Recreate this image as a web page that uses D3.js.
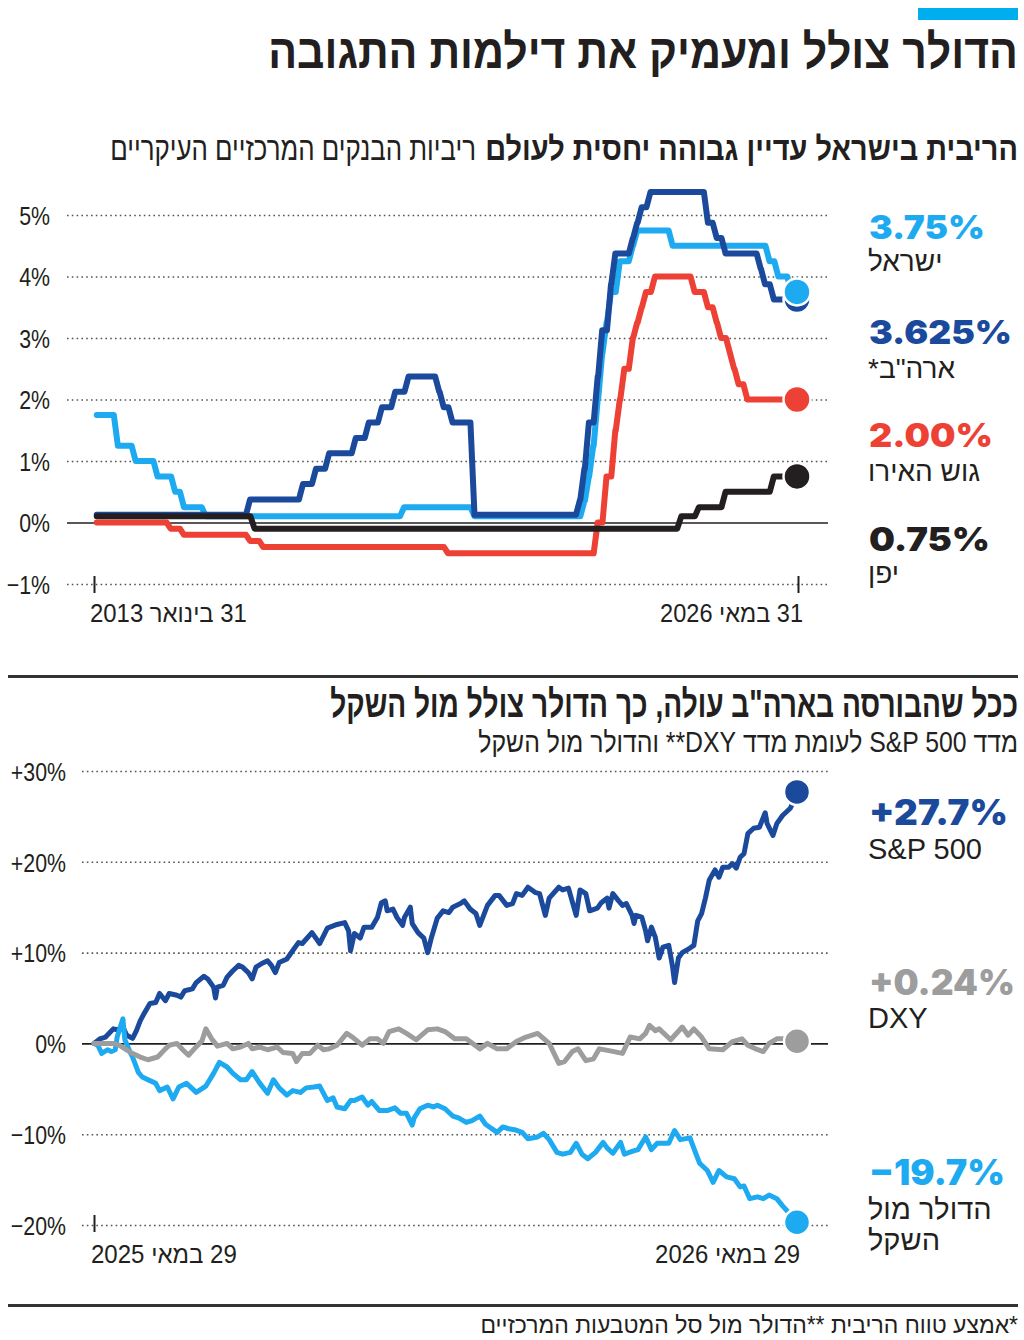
<!DOCTYPE html>
<html>
<head>
<meta charset="utf-8">
<script src="https://cdn.jsdelivr.net/npm/d3@7"></script>
<style>
  body { margin: 0; background: #fff; }
  svg { display: block; }
  text { font-family: "Liberation Sans", "DejaVu Sans", sans-serif; fill: #231f20; }
  .num { font-family: "Inter", "Lato", sans-serif; font-weight: 900; }
  .tick text { font-family: "Liberation Sans", sans-serif; font-size: 26px; fill: #231f20; }
</style>
</head>
<body>
<div id="root"></div>
<script>
// ---- data: central bank rates (change points, month -> rate) ----
const israelRates = [["2013-02",1.75],["2013-07",1.25],["2013-11",1.0],["2014-04",0.75],["2014-08",0.5],["2014-10",0.25],
  ["2015-03",0.1],["2018-12",0.25],["2020-04",0.1],["2022-05",0.35],["2022-06",0.75],["2022-07",1.25],["2022-08",2.0],
  ["2022-09",2.75],["2022-10",3.25],["2022-11",3.75],["2023-01",4.25],["2023-04",4.5],["2023-05",4.75],["2024-01",4.5],
  ["2025-11",4.25],["2026-01",4.0],["2026-04",3.75]];
const usRates = [["2013-02",0.125],["2016-01",0.375],["2017-01",0.625],["2017-04",0.875],["2017-07",1.125],["2018-01",1.375],
  ["2018-04",1.625],["2018-07",1.875],["2018-10",2.125],["2019-01",2.375],["2019-08",2.125],["2019-09",1.875],["2019-11",1.625],
  ["2020-04",0.125],["2022-04",0.375],["2022-05",0.875],["2022-06",1.625],["2022-08",2.375],["2022-09",3.125],["2022-11",3.875],
  ["2022-12",4.375],["2023-04",4.625],["2023-05",4.875],["2023-06",5.125],["2023-08",5.375],["2024-09",4.875],["2024-11",4.625],
  ["2025-01",4.375],["2025-09",4.125],["2025-10",3.875],["2025-12",3.625]];
const euroRates = [["2013-02",0],["2014-07",-0.1],["2014-10",-0.2],["2016-01",-0.3],["2016-04",-0.4],["2019-10",-0.5],
  ["2022-08",0],["2022-10",0.75],["2022-12",1.5],["2023-01",2.0],["2023-02",2.5],["2023-04",3.0],["2023-05",3.25],
  ["2023-06",3.5],["2023-07",3.75],["2023-09",4.0],["2024-06",3.75],["2024-09",3.5],["2024-11",3.25],["2024-12",3.0],
  ["2025-02",2.75],["2025-03",2.5],["2025-04",2.25],["2025-06",2.0]];
const japanRates = [["2013-02",0.1],["2016-02",-0.1],["2024-03",0.1],["2024-07",0.25],["2025-01",0.5],["2025-12",0.75]];

const rateTicks = [-1, 0, 1, 2, 3, 4, 5];
const rateRange = ["2013-01-31", "2026-05-31"];
const rateDateLabels = ["31 בינואר 2013", "31 במאי 2026"];
const rateNames = ["ישראל", "ארה\"ב*", "גוש האירו", "יפן"];
const rateLast = ["3.75%", "3.625%", "2.00%", "0.75%"];

// ---- data: one year change, % (day since 29.5.2025, value) ----
const sp500 = [[0,0],[3,0.5],[6,0.7],[10,1.6],[12,1.5],[15,1.8],[17,0.9],[20,0.55],[22,1.4],[24,2.5],[26,3.3],[29,4.4],[32,4.5],
  [34,5.5],[37,4.7],[39,5.5],[43,5.3],[45,5.1],[47,5.8],[51,6.0],[53,6.7],[57,7.4],[59,7.1],[62,6.2],[63,5.0],[64,6.2],[67,6.4],
  [69,7.3],[72,8.0],[75,8.6],[77,8.4],[80,7.8],[82,7.1],[84,8.4],[87,8.8],[90,9.1],[92,8.6],[94,7.8],[96,8.9],[100,9.3],[103,10.2],
  [106,11.1],[108,11.0],[113,12.2],[117,11.0],[121,12.7],[126,13.1],[130,13.3],[132,12.4],[133,10.2],[135,12.1],[138,11.6],
  [140,12.8],[144,12.8],[147,13.9],[149,15.5],[151,15.7],[152,14.6],[155,14.8],[157,13.9],[160,13.0],[161,13.9],[164,15.0],
  [165,13.2],[168,12.2],[171,11.6],[173,10.0],[175,11.7],[178,13.8],[181,14.6],[184,14.4],[186,15.0],[190,15.4],[192,15.7],
  [195,14.8],[198,14.3],[200,13.0],[202,14.1],[204,15.2],[208,16.3],[210,16.3],[214,15.2],[217,15.4],[219,16.5],[222,16.3],
  [225,17.2],[229,16.6],[231,16.5],[234,14.1],[236,16.0],[241,17.2],[243,16.9],[246,17.1],[250,14.1],[252,16.9],[255,16.5],
  [257,14.6],[261,14.9],[263,15.5],[266,16.0],[267,14.9],[269,16.5],[272,15.7],[274,15.2],[276,15.4],[279,14.1],[280,13.2],
  [281,14.1],[284,13.9],[286,12.4],[287,11.3],[289,12.8],[291,11.7],[293,9.4],[295,10.6],[298,10.8],[300,8.4],[301,6.7],
  [303,9.4],[305,10.0],[309,10.5],[311,10.8],[313,13.5],[315,14.3],[317,16.0],[319,18.0],[322,19.1],[324,18.3],[326,19.4],
  [329,19.4],[331,19.8],[333,19.3],[335,20.5],[337,20.9],[339,23.1],[342,23.7],[345,23.8],[348,25.4],[349,24.2],[352,22.9],
  [354,24.2],[357,25.1],[361,25.9],[365,27.7]];
const dxy = [[0,0],[3,0],[10,0],[13,-0.2],[19,-1.0],[24,-1.5],[28,-1.8],[33,-1.5],[37,-0.6],[39,-0.2],[43,0],[46,-0.7],[49,-1.3],
  [52,-0.6],[56,0.3],[58,1.6],[61,0.5],[64,-0.3],[69,0],[72,-0.6],[76,-0.4],[80,0],[82,-0.6],[86,-0.4],[90,-0.7],[95,-0.4],
  [98,-1.0],[103,-1.1],[105,-2.0],[108,-1.1],[112,-1.1],[116,-0.2],[119,-0.7],[122,-0.6],[126,-0.2],[131,1.1],[134,0.7],
  [139,-0.2],[143,0.5],[147,0.5],[150,0],[153,1.3],[158,1.6],[162,1.1],[167,0.4],[173,1.5],[178,1.6],[182,1.3],[187,0.5],
  [193,0.5],[200,-0.6],[204,0],[209,-0.6],[214,-0.6],[219,0.2],[224,0.7],[230,1.1],[236,0],[241,-2.2],[244,-2.0],[248,-0.9],
  [251,-0.6],[255,-1.9],[259,-1.7],[262,-0.6],[267,-0.8],[274,-1.1],[278,0.7],[283,0.5],[286,1.1],[288,2.0],[291,1.4],
  [293,1.6],[299,0.4],[305,1.8],[308,0.9],[311,1.6],[315,0.7],[319,-0.6],[326,-0.7],[331,0.2],[336,0.5],[339,-0.2],[343,-0.6],
  [347,-0.9],[350,0],[354,0.5],[358,0.5],[365,0.24]];
const shekel = [[0,0],[2,-0.2],[4,-1.1],[7,-0.7],[9,-0.9],[11,-0.7],[12,0.7],[15,2.7],[16,0.4],[19,-1.1],[20,-1.5],[23,-3.2],
  [25,-3.7],[29,-4.1],[32,-4.4],[34,-5.2],[38,-4.8],[41,-6.1],[44,-4.8],[48,-4.4],[53,-5.4],[58,-4.7],[62,-3.3],[65,-2.1],
  [69,-2.6],[72,-3.3],[76,-4.0],[79,-4.0],[82,-3.1],[86,-4.4],[90,-5.5],[93,-4.0],[96,-4.9],[100,-5.7],[103,-5.2],[107,-5.4],
  [110,-4.9],[114,-4.8],[117,-4.7],[121,-6.3],[124,-6.0],[126,-7.0],[130,-7.2],[133,-6.3],[135,-6.3],[139,-5.9],[142,-6.8],
  [144,-6.4],[148,-7.4],[152,-7.4],[156,-7.1],[159,-7.7],[162,-7.7],[165,-9.0],[166,-8.2],[169,-7.2],[173,-6.8],[176,-7.0],
  [178,-6.8],[182,-7.2],[186,-8.0],[189,-8.2],[193,-8.7],[196,-8.5],[200,-8.0],[203,-8.9],[205,-9.2],[209,-9.8],[212,-9.2],
  [215,-9.4],[218,-9.5],[222,-9.8],[225,-10.5],[230,-10.3],[233,-9.9],[236,-10.6],[240,-12.0],[243,-12.2],[247,-12.0],
  [250,-11.0],[253,-12.2],[256,-12.7],[260,-12.0],[264,-10.9],[266,-11.5],[269,-12.1],[273,-10.9],[275,-12.2],[279,-11.9],
  [282,-11.7],[286,-10.3],[289,-11.7],[292,-11.0],[298,-11.0],[301,-9.6],[304,-10.6],[309,-10.4],[312,-12.1],[314,-13.2],
  [318,-14.0],[321,-15.3],[324,-14.0],[328,-14.7],[332,-14.9],[335,-15.8],[337,-15.7],[340,-17.1],[344,-16.9],[347,-17.1],
  [350,-16.7],[354,-17.1],[357,-17.9],[360,-18.6],[365,-19.7]];

const marketTicks = [-20, -10, 0, 10, 20, 30];
const marketDateLabels = ["29 במאי 2025", "29 במאי 2026"];
const marketNames = [["S&P 500"], ["DXY"], ["הדולר מול", "השקל"]];
const marketLast = ["+27.7%", "+0.24%", "−19.7%"];

const title = "הדולר צולל ומעמיק את דילמות התגובה";
const rateTitle = "הריבית בישראל עדיין גבוהה יחסית לעולם";
const rateSub = "ריביות הבנקים המרכזיים העיקריים";
const marketTitle = "ככל שהבורסה בארה\"ב עולה, כך הדולר צולל מול השקל";
const marketSub = "מדד S&P 500 לעומת מדד DXY** והדולר מול השקל";
const footnote = "*אמצע טווח הריבית **הדולר מול סל המטבעות המרכזיים";

const LIGHT = "#1eaaf1", DARK = "#1b4a9c", RED = "#ee4136", BLACK = "#231f20", GRAY = "#9d9d9d";

const svg = d3.select("#root").append("svg").attr("width", 1024).attr("height", 1340);

// text squeezed (or stretched) to width w by scaling its group, edge = visual side fixed at x
const fitText = (str, x, y, edge, size, weight, w, cls) => {
  const g = svg.append("g").attr("transform", `translate(${x},${y})`);
  const t = g.append("text")
    .attr("text-anchor", edge === "right" ? "end" : "start")
    .style("font-size", size + "px")
    .style("font-weight", weight || 400)
    .text(str);
  if (cls) t.attr("class", cls);
  if (w) {
    const k = w / t.node().getComputedTextLength();
    g.attr("transform", `translate(${x},${y}) scale(${k},1)`);
  }
  return t;
};
// hebrew: wrapped in a right-to-left isolate
const heb = (str, x, y, edge, size, weight, w) =>
  fitText("\u2067" + str + "\u2069", x, y, edge, size, weight, w);

// squeeze axis labels to a narrow look
const narrow = sel => sel.each(function() {
  const w = this.getComputedTextLength();
  d3.select(this).attr("textLength", w * 0.82).attr("lengthAdjust", "spacingAndGlyphs");
});

// header
svg.append("rect").attr("x", 918).attr("y", 8).attr("width", 100).attr("height", 12).attr("fill", "#00aeef");
heb(title, 1018, 68, "right", 48, 700, 750);
heb(rateTitle, 1018, 160, "right", 33, 700, 533);
heb(rateSub, 476, 160, "right", 33, 400, 366);

// ---------- chart 1 : rates ----------
const parseM = d3.timeParse("%Y-%m");
const parseD = d3.timeParse("%Y-%m-%d");
const x1 = d3.scaleTime().domain(rateRange.map(parseD)).range([94, 798]);
const y1 = d3.scaleLinear().domain([-1, 5]).range([584, 215]);

const pctFmt = d => (d < 0 ? "−" : "") + Math.abs(d) + "%";

const ax1 = svg.append("g").attr("class", "tick")
  .attr("transform", "translate(67,0)")
  .call(d3.axisLeft(y1).tickValues(rateTicks).tickSize(-(828 - 67)).tickPadding(17).tickFormat(pctFmt));
ax1.select(".domain").remove();
ax1.selectAll(".tick line").attr("stroke", "#555").attr("stroke-width", 1.6).attr("stroke-dasharray", "1.6 3.2");
ax1.selectAll(".tick").filter(d => d === 0).select("line")
  .attr("stroke", BLACK).attr("stroke-width", 1.6).attr("stroke-dasharray", null);
ax1.selectAll(".tick text").attr("dy", "0.36em").call(narrow);

const xa1 = svg.append("g").attr("transform", "translate(0,576)")
  .call(d3.axisBottom(x1).tickValues(rateRange.map(parseD)).tickSize(17).tickFormat(""));
xa1.select(".domain").remove();
xa1.selectAll(".tick line").attr("stroke", BLACK).attr("stroke-width", 2);

heb(rateDateLabels[0], 90, 622, "left", 25, 400, 157);
heb(rateDateLabels[1], 803, 622, "right", 25, 400, 143);

// step line with a short slanted riser at every change
const riser = 14;
const stepPts = steps => {
  const pts = [];
  steps.forEach(([m, v], i) => {
    const dt = parseM(m);
    if (i > 0) {
      pts.push({ date: d3.timeDay.offset(dt, -riser), v: steps[i - 1][1] });
      pts.push({ date: d3.timeDay.offset(dt, riser), v: v });
    } else {
      pts.push({ date: d3.timeDay.offset(dt, 18), v: v });
    }
  });
  pts.push({ date: parseD(rateRange[1]), v: steps[steps.length - 1][1] });
  return pts;
};

const rateLine = d3.line().x(d => x1(d.date)).y(d => y1(d.v));
const rateSeries = [
  { steps: euroRates, color: RED },
  { steps: israelRates, color: LIGHT },
  { steps: usRates, color: DARK },
  { steps: japanRates, color: BLACK }
];
rateSeries.forEach(s => {
  svg.append("path").datum(stepPts(s.steps))
    .attr("d", rateLine)
    .attr("fill", "none")
    .attr("stroke", s.color)
    .attr("stroke-width", 6)
    .attr("stroke-linejoin", "round")
    .attr("stroke-linecap", "round");
});
// end dots
[[euroRates, RED], [japanRates, BLACK], [usRates, DARK], [israelRates, LIGHT]].forEach(([s, c]) => {
  svg.append("circle")
    .attr("cx", x1(parseD(rateRange[1])) - 1)
    .attr("cy", y1(s[s.length - 1][1]))
    .attr("r", 13.5)
    .attr("fill", c)
    .attr("stroke", "#fff")
    .attr("stroke-width", 2.5);
});

// legend 1
const rateColors = [LIGHT, DARK, RED, BLACK];
const rateValY = [239, 344, 447, 551];
const rateNameY = [271, 378, 481, 583];
const rateValW = [116, 143, 124, 121];
rateLast.forEach((v, i) => {
  fitText(v, 869, rateValY[i], "left", 33, 900, rateValW[i], "num").style("fill", rateColors[i]);
  heb(rateNames[i], 868, rateNameY[i], "left", 28, 400);
});

// separator
svg.append("rect").attr("x", 8).attr("y", 675).attr("width", 1010).attr("height", 3).attr("fill", "#333");

// ---------- chart 2 : markets ----------
heb(marketTitle, 1018, 717, "right", 38, 700, 688);
heb(marketSub, 1018, 752, "right", 29, 400, 540);

const x2 = d3.scaleLinear().domain([0, 365]).range([94, 798]);
const y2 = d3.scaleLinear().domain([-20, 30]).range([1225, 771]);
const mktFmt = d => (d > 0 ? "+" : d < 0 ? "−" : "") + Math.abs(d) + "%";

const ax2 = svg.append("g").attr("class", "tick")
  .attr("transform", "translate(82,0)")
  .call(d3.axisLeft(y2).tickValues(marketTicks).tickSize(-(828 - 82)).tickPadding(16).tickFormat(mktFmt));
ax2.select(".domain").remove();
ax2.selectAll(".tick line").attr("stroke", "#555").attr("stroke-width", 1.6).attr("stroke-dasharray", "1.6 3.2");
ax2.selectAll(".tick").filter(d => d === 0).select("line")
  .attr("stroke", BLACK).attr("stroke-width", 1.6).attr("stroke-dasharray", null);
ax2.selectAll(".tick text").attr("dy", "0.36em").call(narrow);

const xa2 = svg.append("g").attr("transform", "translate(0,1215)")
  .call(d3.axisBottom(x2).tickValues([0, 365]).tickSize(17).tickFormat(""));
xa2.select(".domain").remove();
xa2.selectAll(".tick line").attr("stroke", BLACK).attr("stroke-width", 2);

heb(marketDateLabels[0], 91, 1263, "left", 25, 400, 146);
heb(marketDateLabels[1], 800, 1263, "right", 25, 400, 145);

const mktLine = d3.line().x(d => x2(d[0])).y(d => y2(d[1]));
const mktSeries = [
  { data: sp500, color: DARK },
  { data: shekel, color: LIGHT },
  { data: dxy, color: GRAY }
];
mktSeries.forEach(s => {
  svg.append("path").datum(s.data)
    .attr("d", mktLine)
    .attr("fill", "none")
    .attr("stroke", s.color)
    .attr("stroke-width", 5)
    .attr("stroke-linejoin", "round")
    .attr("stroke-linecap", "round");
});
mktSeries.forEach(s => {
  const last = s.data[s.data.length - 1];
  svg.append("circle")
    .attr("cx", x2(last[0]) - 1).attr("cy", y2(last[1]))
    .attr("r", 13)
    .attr("fill", s.color)
    .attr("stroke", "#fff")
    .attr("stroke-width", 2.5);
});

// legend 2
const mktColors = [DARK, GRAY, LIGHT];
const mktValY = [825, 995, 1185];
const mktNameY = [[859], [1028], [1219, 1250]];
const mktValW = [139, 146, 136];
marketLast.forEach((v, i) => {
  fitText(v, 869, mktValY[i], "left", 35, 900, mktValW[i], "num").style("fill", mktColors[i]);
  marketNames[i].forEach((n, j) => heb(n, 868, mktNameY[i][j], "left", 29, 400));
});

// footer
svg.append("rect").attr("x", 8).attr("y", 1304).attr("width", 1010).attr("height", 3).attr("fill", "#333");
heb(footnote, 1018, 1333, "right", 24, 400, 538);
</script>
</body>
</html>
